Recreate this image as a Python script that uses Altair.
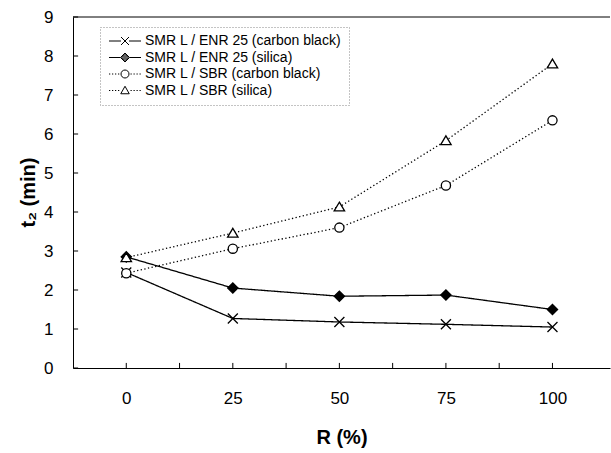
import altair as alt
import pandas as pd

# Cure time t2 against blend ratio R for the four rubber blends
R = [0, 25, 50, 75, 100]
enr_cb = [2.45, 1.27, 1.18, 1.12, 1.05]
enr_si = [2.85, 2.05, 1.84, 1.87, 1.50]
sbr_cb = [2.43, 3.06, 3.60, 4.68, 6.35]
sbr_si = [2.83, 3.46, 4.13, 5.83, 7.80]

names = [
    "SMR L / ENR 25 (carbon black)",
    "SMR L / ENR 25 (silica)",
    "SMR L / SBR (carbon black)",
    "SMR L / SBR (silica)",
]
series_values = [enr_cb, enr_si, sbr_cb, sbr_si]

x_ticks = [0, 25, 50, 75, 100]
x_minor = [0, 12.5, 25, 37.5, 50, 62.5, 75, 87.5, 100]
y_ticks = [0, 1, 2, 3, 4, 5, 6, 7, 8, 9]

FONT = "Liberation Sans"

rows = []
for name, vals in zip(names, series_values):
    for r, v in zip(R, vals):
        rows.append({"series": name, "R": r, "t2": v})
df = pd.DataFrame(rows)

x_scale = alt.Scale(domain=[-12.5, 113.5], nice=False, zero=False)
y_scale = alt.Scale(domain=[0, 9], nice=False)

x_enc = alt.X(
    "R:Q",
    scale=x_scale,
    axis=alt.Axis(
        values=x_ticks, ticks=False, tickSize=0, grid=False,
        labelFont=FONT, labelFontSize=17, labelColor="black", labelPadding=22,
        domainColor="black", domainWidth=1,
        title="R (%)", titleFont=FONT, titleFontSize=20, titleFontWeight="bold",
        titleColor="black", titleY=75, titleBaseline="alphabetic",
    ),
)
y_enc = alt.Y(
    "t2:Q",
    scale=y_scale,
    axis=alt.Axis(
        values=y_ticks, ticks=False, tickSize=0, grid=False,
        labelFont=FONT, labelFontSize=17, labelColor="black", labelPadding=20,
        domainColor="black", domainWidth=1,
        title="t₂ (min)", titleFont=FONT, titleFontSize=20, titleFontWeight="bold",
        titleColor="black", titleX=-45, titleY=175, titleAngle=-90,
        titleBaseline="middle", titleAlign="center",
    ),
)

# marker shape, fill and line dash of each series
marker_shapes = [
    "M-1,-1L1,1M-1,1L1,-1",
    "diamond",
    "circle",
    "M0,-1L1.1,0.85L-1.1,0.85Z",
]
marker_sizes = [100, 105, 85, 90]
marker_fills = ["transparent", "black", "white", "white"]
dashes = [[1, 0], [1, 0], [1.3, 2.4], [1.3, 2.4]]

layers = []

for i, name in enumerate(names):
    sub = df[df["series"] == name]
    layers.append(
        alt.Chart(sub).mark_line(color="black", strokeWidth=1.3, strokeDash=dashes[i])
        .encode(x=x_enc, y=y_enc)
    )
for i, name in enumerate(names):
    sub = df[df["series"] == name]
    layers.append(
        alt.Chart(sub).mark_point(
            shape=marker_shapes[i], size=marker_sizes[i], filled=False,
            fill=marker_fills[i], stroke="black", strokeWidth=1.3, opacity=1,
        ).encode(x=x_enc, y=y_enc)
    )

# top frame line
layers.append(
    alt.Chart(pd.DataFrame({"t2": [9]})).mark_rule(color="black", strokeWidth=1)
    .encode(y=y_enc)
)

# inward tick marks on both axes
xt = pd.DataFrame({"R": x_minor, "t2": [0] * len(x_minor), "t2b": [0.13] * len(x_minor)})
layers.append(
    alt.Chart(xt).mark_rule(color="black", strokeWidth=1)
    .encode(x=x_enc, y=y_enc, y2="t2b:Q")
)
yt = pd.DataFrame({"t2": y_ticks, "R": [-12.5] * len(y_ticks), "Rb": [-11.3] * len(y_ticks)})
layers.append(
    alt.Chart(yt).mark_rule(color="black", strokeWidth=1)
    .encode(y=y_enc, x=x_enc, x2="Rb:Q")
)

# legend glyphs: line segment with the marker in its middle (stroke only)
dots_left = "M-1,0h0.25M-0.4,0h0.25M0.2,0h0.25M0.8,0h0.25"
dots_right = "M3.3,0h0.25M3.9,0h0.25M4.5,0h0.25M5.1,0h0.25"
solid_diamond = "".join(
    f"M2.2,{-h}L{2.2 + h},0L2.2,{h}L{2.2 - h},0Z" for h in (0.9, 0.65, 0.4, 0.15)
)
legend_paths = [
    "M-1,0H1.4M3,0H5.4M1.4,-0.8L3,0.8M1.4,0.8L3,-0.8",
    "M-1,0H1.3M3.1,0H5.4" + solid_diamond,
    dots_left + dots_right + "M3,0A0.8,0.8 0 1 1 1.4,0A0.8,0.8 0 1 1 3,0Z",
    dots_left + dots_right + "M2.2,-0.85L3.05,0.65L1.35,0.65Z",
]

leg = alt.Legend(
    title=None, orient="none", legendX=27, legendY=10,
    symbolSize=100, symbolStrokeColor="black", symbolStrokeWidth=1,
    symbolOpacity=1, symbolFillColor="transparent",
    labelFont=FONT, labelFontSize=14, labelColor="black",
    labelOffset=24, rowPadding=2.5, padding=7, labelLimit=400,
    strokeColor="#888888",
)
# legend carrier: placed left of the visible domain and clipped away
layers.append(
    alt.Chart(df).mark_point(color="black", strokeWidth=1, clip=True, filled=False, opacity=1)
    .encode(
        x=alt.datum(-60), y=y_enc,
        shape=alt.Shape("series:N", scale=alt.Scale(domain=names, range=legend_paths), legend=leg),
    )
)

chart = (
    alt.layer(*layers)
    .properties(
        width=537, height=351,
        autosize=alt.AutoSizeParams(type="none"),
        padding={"left": 73, "top": 17, "right": 1, "bottom": 85},
        background="white",
    )
    .configure_view(stroke=None)
    .configure_legend(strokeDash=[1, 2])
)

chart.save("out.html", embed_options={"renderer": "svg", "actions": False})
